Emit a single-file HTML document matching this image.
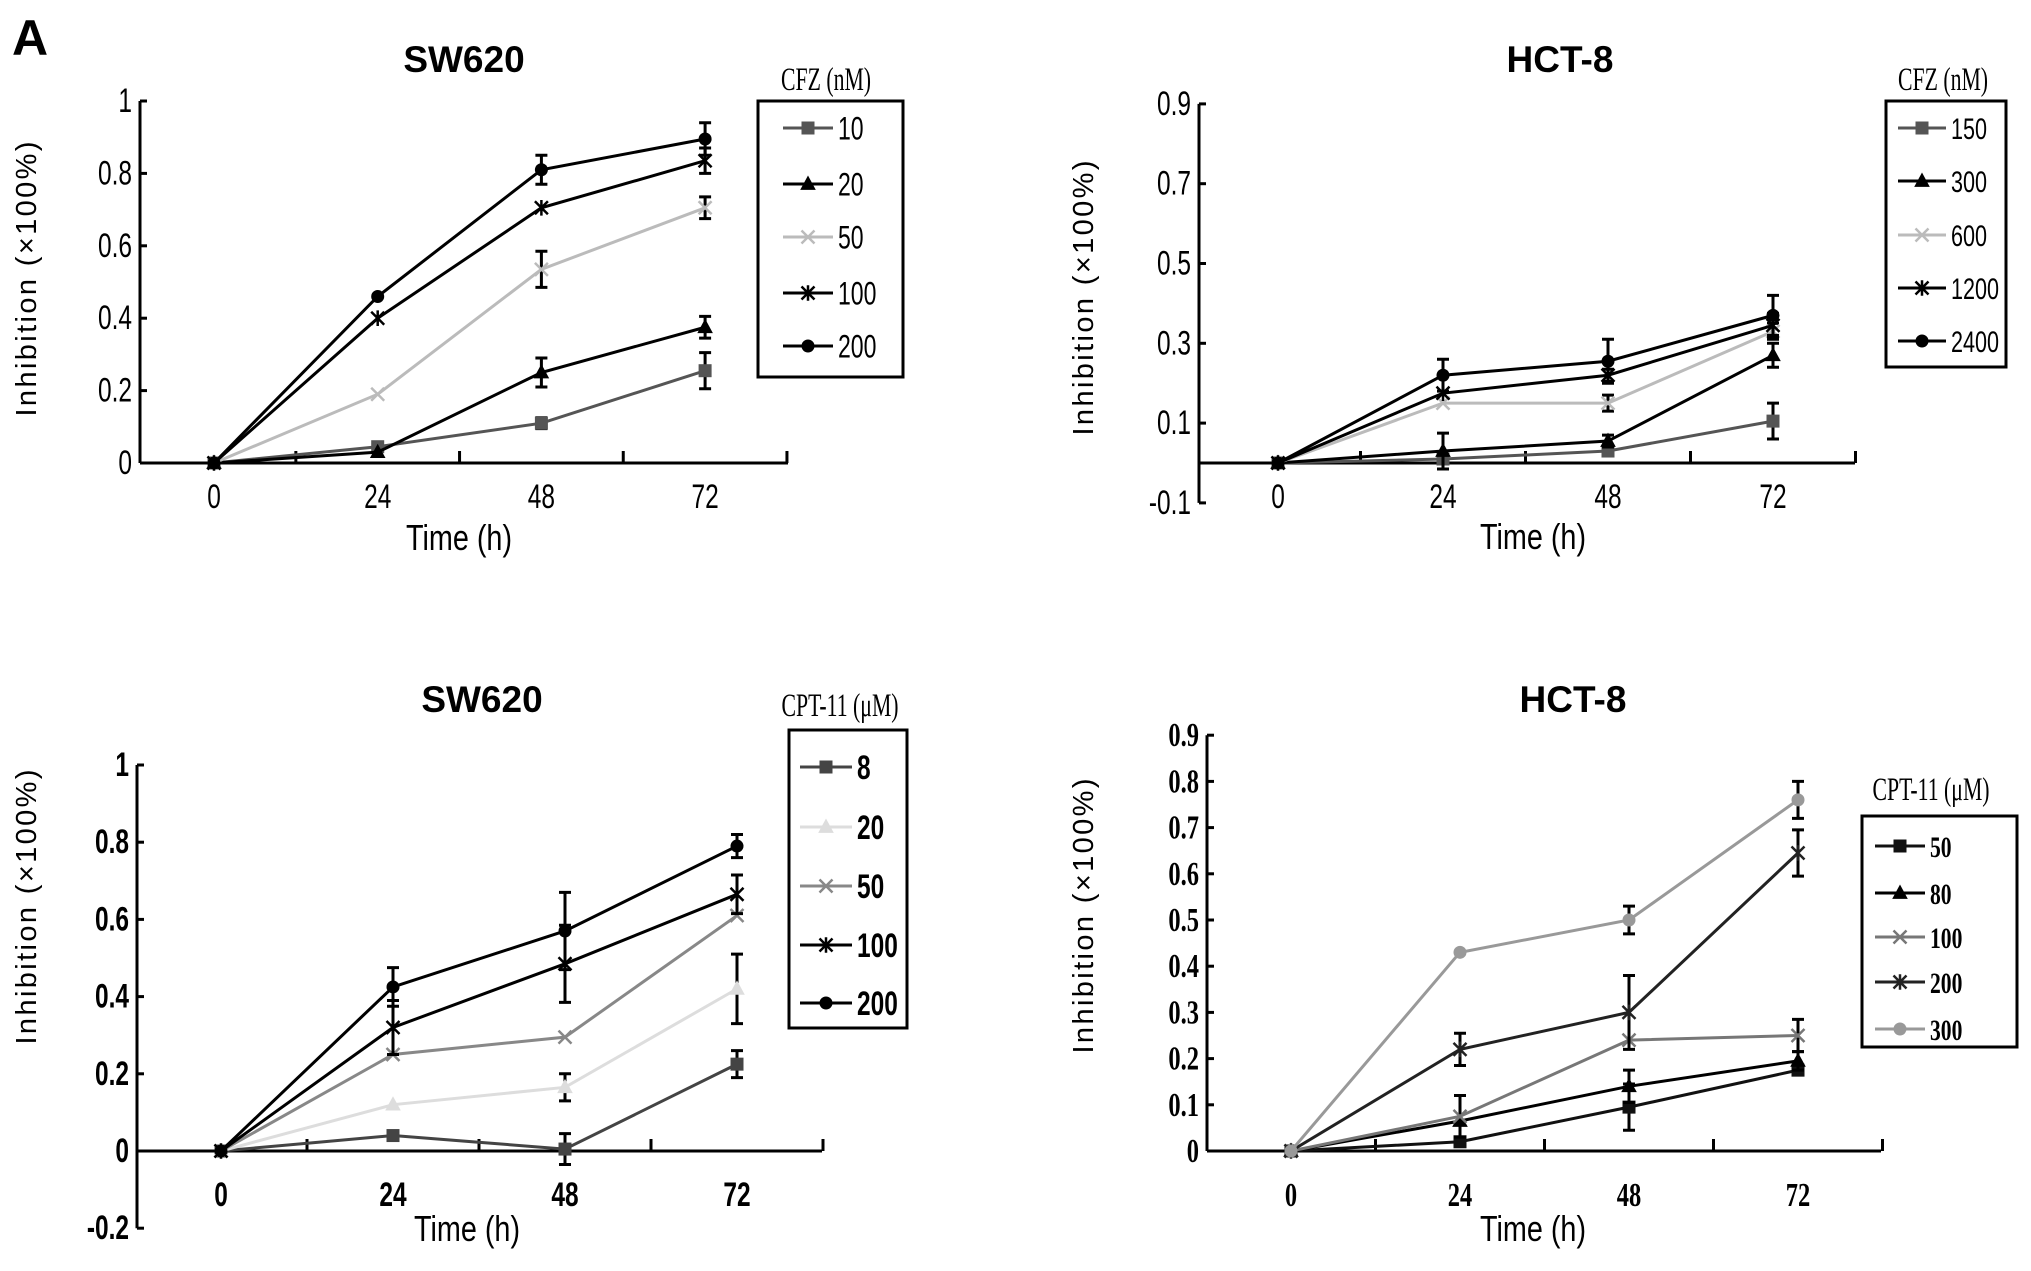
<!DOCTYPE html>
<html><head><meta charset="utf-8"><style>
html,body{margin:0;padding:0;background:#fff;}
svg{display:block;}
</style></head><body>
<svg id="fig" width="2031" height="1271" viewBox="0 0 2031 1271" xmlns="http://www.w3.org/2000/svg">
<text x="12" y="55" font-family="Liberation Sans, sans-serif" font-weight="bold" font-size="50">A</text>
</svg>
<script>
const times = [0, 24, 48, 72];

// Panel 1: SW620 CFZ
const p1Names = ['10','20','50','100','200'];
const p1Vals = [[0,0.045,0.11,0.255],[0,0.03,0.25,0.375],[0,0.19,0.535,0.705],[0,0.4,0.705,0.835],[0,0.46,0.81,0.895]];
const p1Errs = [[0,0.01,0.015,0.05],[0,0.01,0.04,0.03],[0,0.01,0.05,0.03],[0,0.01,0.01,0.035],[0,0.01,0.04,0.045]];
const p1Ticks = ['0','0.2','0.4','0.6','0.8','1'];
const p1TickVals = [0,0.2,0.4,0.6,0.8,1];

// Panel 2: HCT-8 CFZ
const p2Names = ['150','300','600','1200','2400'];
const p2Vals = [[0,0.01,0.03,0.105],[0,0.03,0.055,0.27],[0,0.15,0.15,0.33],[0,0.175,0.22,0.345],[0,0.22,0.255,0.37]];
const p2Errs = [[0,0.01,0.01,0.045],[0,0.045,0.015,0.03],[0,0.01,0.02,0.02],[0,0.01,0.015,0.03],[0,0.04,0.055,0.05]];
const p2Ticks = ['-0.1','0.1','0.3','0.5','0.7','0.9'];
const p2TickVals = [-0.1,0.1,0.3,0.5,0.7,0.9];

// Panel 3: SW620 CPT-11
const p3Names = ['8','20','50','100','200'];
const p3Vals = [[0,0.04,0.005,0.225],[0,0.12,0.165,0.42],[0,0.25,0.295,0.61],[0,0.32,0.485,0.665],[0,0.425,0.57,0.79]];
const p3Errs = [[0,0.01,0.04,0.035],[0,0.01,0.035,0.09],[0,0.01,0.01,0.01],[0,0.07,0.1,0.05],[0,0.05,0.1,0.03]];
const p3Ticks = ['-0.2','0','0.2','0.4','0.6','0.8','1'];
const p3TickVals = [-0.2,0,0.2,0.4,0.6,0.8,1];

// Panel 4: HCT-8 CPT-11
const p4Names = ['50','80','100','200','300'];
const p4Vals = [[0,0.02,0.095,0.175],[0,0.065,0.14,0.195],[0,0.075,0.24,0.25],[0,0.22,0.3,0.645],[0,0.43,0.5,0.76]];
const p4Errs = [[0,0.01,0.05,0.01],[0,0.01,0.035,0.02],[0,0.045,0.01,0.035],[0,0.035,0.08,0.05],[0,0.01,0.03,0.04]];
const p4Ticks = ['0','0.1','0.2','0.3','0.4','0.5','0.6','0.7','0.8','0.9'];
const p4TickVals = [0,0.1,0.2,0.3,0.4,0.5,0.6,0.7,0.8,0.9];

const NS = 'http://www.w3.org/2000/svg';
const svg = document.getElementById('fig');
function mk(tag, attrs, parent){
  const e = document.createElementNS(NS, tag);
  for (const k in attrs) e.setAttribute(k, attrs[k]);
  (parent||svg).appendChild(e);
  return e;
}
function ctext(x,y,str,size,anchor,g,opts){
  opts = opts||{};
  const t = mk('text',{transform:'translate('+x+','+y+') scale('+(opts.sx||0.72)+',1)','text-anchor':anchor,'font-size':size,'font-family':opts.family||'Liberation Sans, sans-serif','font-weight':opts.weight||'normal',fill:'#000'},g);
  t.textContent = str;
  return t;
}
function marker(g, type, x, y, color, s){
  let e;
  if (type==='square') e = mk('rect',{x:x-s/2,y:y-s/2,width:s,height:s,fill:color},g);
  else if (type==='triangle') e = mk('polygon',{points:(x)+','+(y-s*0.65)+' '+(x-s*0.6)+','+(y+s*0.45)+' '+(x+s*0.6)+','+(y+s*0.45),fill:color},g);
  else if (type==='circle') e = mk('circle',{cx:x,cy:y,r:s*0.5,fill:color},g);
  else if (type==='x') e = mk('path',{d:'M'+(x-s/2)+' '+(y-s/2)+'L'+(x+s/2)+' '+(y+s/2)+'M'+(x-s/2)+' '+(y+s/2)+'L'+(x+s/2)+' '+(y-s/2),stroke:color,'stroke-width':2.5,fill:'none'},g);
  else e = mk('path',{d:'M'+(x-s/2)+' '+(y-s/2)+'L'+(x+s/2)+' '+(y+s/2)+'M'+(x-s/2)+' '+(y+s/2)+'L'+(x+s/2)+' '+(y-s/2)+'M'+x+' '+(y-s*0.6)+'L'+x+' '+(y+s*0.6),stroke:color,'stroke-width':2.5,fill:'none'},g);
  
  
  return e;
}

function panel(cfg){
  const g = mk('g',{});
  
  
  const xs = t => cfg.x0 + t/24*cfg.dx;
  const ys = v => cfg.yZero - (v/cfg.yUnit)*cfg.yUnitPx;
  const ti = mk('text',{x:cfg.titleX,y:cfg.titleY,'text-anchor':'middle','font-size':37,'font-weight':'bold','font-family':'Liberation Sans, sans-serif'},g);
  ti.textContent = cfg.title;
  
  
  const yTop = ys(cfg.tickVals[cfg.tickVals.length-1]);
  const yBot = ys(cfg.tickVals[0]);
  const ya = mk('line',{x1:cfg.axX,y1:yTop,x2:cfg.axX,y2:yBot,stroke:'#000','stroke-width':3},g);
  
  
  const xa = mk('line',{x1:cfg.axX,y1:ys(0),x2:cfg.axEnd,y2:ys(0),stroke:'#000','stroke-width':3},g);
  
  
  cfg.tickVals.forEach((v,i)=>{
    mk('line',{x1:cfg.axX,y1:ys(v),x2:cfg.axX+7,y2:ys(v),stroke:'#000','stroke-width':3},g);
    const t = ctext(cfg.axX-8, ys(v)+11, cfg.ticks[i], cfg.tickSize, 'end', g, {weight:cfg.tickWeight,family:cfg.tickFamily,sx:cfg.tickSx});
    
    
  });
  times.forEach((tm,i)=>{
    const tx = xs(tm)+cfg.dx/2;
    mk('line',{x1:tx,y1:ys(0),x2:tx,y2:ys(0)-12,stroke:'#000','stroke-width':3},g);
    const t = ctext(xs(tm), cfg.xLabY, String(tm), cfg.tickSize, 'middle', g, {weight:cfg.tickWeight,family:cfg.tickFamily,sx:cfg.tickSx});
    
    
  });
  const xt = ctext(cfg.xTitleX, cfg.xTitleY, 'Time (h)', 36, 'middle', g, {sx:0.8});
  
  
  const yt = mk('text',{transform:'translate('+cfg.yTitleX+','+cfg.yTitleY+') rotate(-90)','text-anchor':'middle','font-size':29,'font-family':'Liberation Sans, sans-serif',textLength:275,lengthAdjust:'spacing'},g);
  yt.textContent = 'Inhibition (×100%)';
  
  
  cfg.vals.forEach((vals,si)=>{
    const sg = mk('g',{},g);
    
    
    const col = cfg.colors[si];
    const pts = vals.map((v,i)=>xs(times[i])+','+ys(v)).join(' ');
    mk('polyline',{points:pts,fill:'none',stroke:col,'stroke-width':3},sg);
    vals.forEach((v,i)=>{
      const e = cfg.errs[si][i];
      if (e>0.012){
        const x = xs(times[i]);
        const eb = mk('path',{d:'M'+x+' '+ys(v-e)+'L'+x+' '+ys(v+e)+'M'+(x-6)+' '+ys(v-e)+'L'+(x+6)+' '+ys(v-e)+'M'+(x-6)+' '+ys(v+e)+'L'+(x+6)+' '+ys(v+e),stroke:'#000','stroke-width':3,fill:'none'},sg);
        
        
      }
      marker(sg, cfg.markers[si], xs(times[i]), ys(v), col, 13);
    });
  });
  const lt = ctext(cfg.legTitleX, cfg.legTitleY, cfg.legTitle, 33, 'middle', g, {family:'Liberation Serif, serif',sx:0.66});
  
  
  const lb = mk('rect',{x:cfg.box[0],y:cfg.box[1],width:cfg.box[2],height:cfg.box[3],fill:'none',stroke:'#000','stroke-width':3},g);
  
  
  cfg.names.forEach((n,i)=>{
    const lg = mk('g',{},g);
    
    
    const y = cfg.legY[i];
    mk('line',{x1:cfg.legX,y1:y,x2:cfg.legX+cfg.legLen,y2:y,stroke:cfg.colors[i],'stroke-width':3},lg);
    marker(lg, cfg.markers[i], cfg.legX+cfg.legLen/2, y, cfg.colors[i], 13);
    ctext(cfg.legX+cfg.legLen+5, y+cfg.legSize*0.36, n, cfg.legSize, 'start', lg, {family:cfg.legFamily||'Liberation Sans, sans-serif',weight:cfg.legWeight||'normal',sx:0.72});
  });
}

panel({name:'chart-sw620-cfz',title:'SW620',titleX:464,titleY:72,x0:214,dx:163.7,yZero:463,yUnit:1,yUnitPx:362,axX:140,axEnd:788,
  ticks:p1Ticks,tickVals:p1TickVals,tickSize:34,xLabY:508,xTitleX:459,xTitleY:550,yTitleX:36,yTitleY:279,
  names:p1Names,vals:p1Vals,errs:p1Errs,colors:['#555','#000','#bbb','#000','#000'],markers:['square','triangle','x','asterisk','circle'],
  legTitle:'CFZ (nM)',legTitleX:826,legTitleY:90,box:[758,101,145,276],legX:783,legLen:50,legY:[128,184,237,293,346],legSize:32});
panel({name:'chart-hct8-cfz',title:'HCT-8',titleX:1560,titleY:72,x0:1278,dx:165,yZero:463,yUnit:0.1,yUnitPx:39.9,axX:1199,axEnd:1855,
  ticks:p2Ticks,tickVals:p2TickVals,tickSize:34,xLabY:508,xTitleX:1533,xTitleY:549,yTitleX:1093,yTitleY:298,
  names:p2Names,vals:p2Vals,errs:p2Errs,colors:['#555','#000','#bbb','#000','#000'],markers:['square','triangle','x','asterisk','circle'],
  legTitle:'CFZ (nM)',legTitleX:1943,legTitleY:90,box:[1886,101,120,266],legX:1898,legLen:48,legY:[128,181,235,288,341],legSize:30});
panel({name:'chart-sw620-cpt11',title:'SW620',titleX:482,titleY:712,x0:221,dx:172,yZero:1151,yUnit:0.2,yUnitPx:77.2,axX:137,axEnd:822,
  ticks:p3Ticks,tickVals:p3TickVals,tickSize:34,tickWeight:'bold',xLabY:1206,xTitleX:467,xTitleY:1241,yTitleX:36,yTitleY:907,
  names:p3Names,vals:p3Vals,errs:p3Errs,colors:['#444','#ddd','#888','#000','#000'],markers:['square','triangle','x','asterisk','circle'],
  legTitle:'CPT-11 (μM)',legTitleX:840,legTitleY:716,box:[789,730,118,298],legX:800,legLen:52,legY:[767,827,886,945,1003],legSize:34,legWeight:'bold'});
panel({name:'chart-hct8-cpt11',title:'HCT-8',titleX:1573,titleY:712,x0:1291,dx:169,yZero:1151,yUnit:0.1,yUnitPx:46.2,axX:1207,axEnd:1881,
  ticks:p4Ticks,tickVals:p4TickVals,tickSize:34,tickWeight:'bold',tickFamily:'Liberation Serif, serif',xLabY:1206,xTitleX:1533,xTitleY:1241,yTitleX:1093,yTitleY:916,
  names:p4Names,vals:p4Vals,errs:p4Errs,colors:['#111','#000','#777','#222','#999'],markers:['square','triangle','x','asterisk','circle'],
  legTitle:'CPT-11 (μM)',legTitleX:1931,legTitleY:800,box:[1862,816,155,231],legX:1875,legLen:50,legY:[846,893,937,982,1029],legSize:30,legWeight:'bold',legFamily:'Liberation Serif, serif'});
</script>
</body></html>
